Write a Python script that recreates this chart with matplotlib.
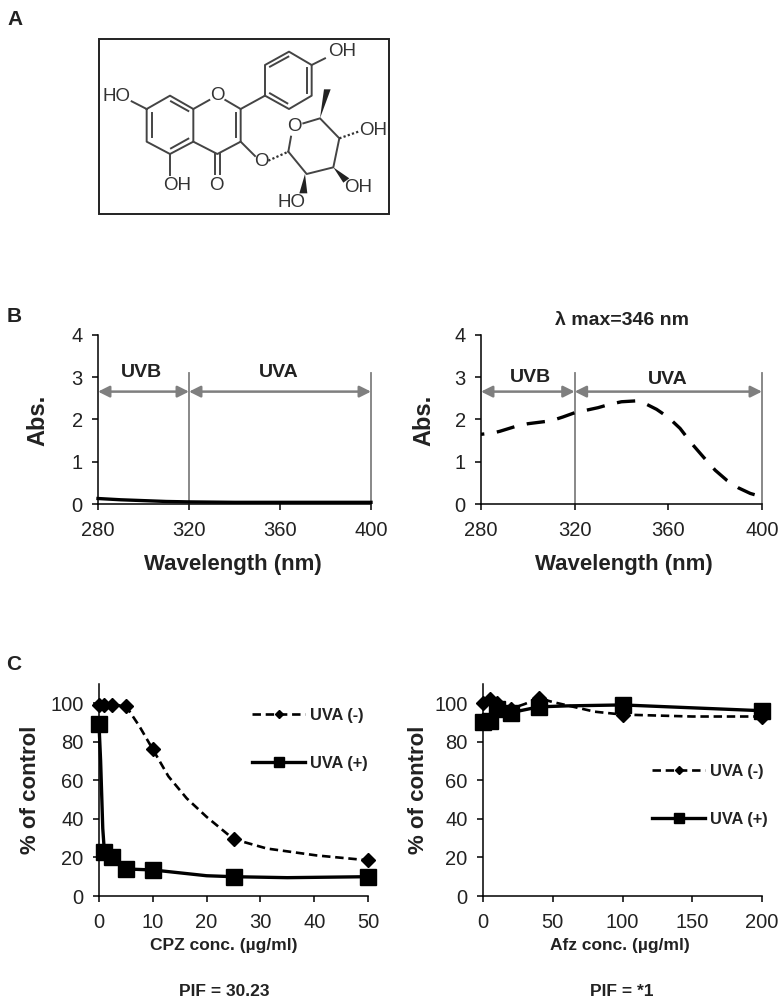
import matplotlib
matplotlib.use('Agg')
import matplotlib.pyplot as plt

plt.rcParams['font.family'] = ['Liberation Sans', 'DejaVu Sans']

W, H = 783, 1005

# spectra
wl_blank = [280, 290, 300, 310, 320, 340, 360, 380, 400]
abs_blank = [0.13, 0.10, 0.08, 0.06, 0.05, 0.04, 0.04, 0.04, 0.04]
wl_afz = [280, 285, 288, 295, 300, 310, 315, 320, 325, 330, 335, 340, 346, 350, 355, 360,
          365, 370, 375, 380, 385, 390, 395, 400]
abs_afz = [1.65, 1.68, 1.72, 1.84, 1.90, 1.97, 2.06, 2.16, 2.22, 2.28, 2.36, 2.42, 2.44, 2.38, 2.24, 2.05,
           1.79, 1.43, 1.11, 0.80, 0.56, 0.38, 0.25, 0.17]

# dose response markers
cpz_dose = [0, 1, 2.5, 5, 10, 25, 50]
cpz_minus = [99, 99, 99, 98.5, 76, 29.5, 18.5]
cpz_plus = [89, 23, 20, 14, 13.5, 10, 10]
afz_dose = [0, 5, 10, 20, 40, 100, 200]
afz_minus = [100, 102, 100, 97, 102.5, 94, 93]
afz_plus = [90, 90.5, 97, 95, 98, 99, 96]

# the lines between markers are smoothed, these are read along the line
cpz_minus_x = [0, 1, 2.5, 5, 7.5, 10, 12.9, 16.3, 20, 25, 31.2, 40.5, 50]
cpz_minus_y = [99, 99, 99, 98.5, 88, 76, 62, 50.6, 41, 29.5, 24.6, 21, 18.5]
cpz_plus_x = [0, 0.3, 0.7, 1, 2.5, 5, 10, 15, 20, 25, 35, 50]
cpz_plus_y = [89, 70, 35, 23, 20, 14, 13.5, 12, 10.5, 10, 9.5, 10]
afz_minus_x = [0, 5, 10, 20, 30, 40, 50, 65, 80, 100, 150, 200]
afz_minus_y = [100, 102, 100, 97, 99.5, 102.5, 100.5, 98, 95.5, 94, 93, 93]
afz_plus_x = [0, 5, 10, 20, 30, 40, 60, 100, 150, 200]
afz_plus_y = [90, 90.5, 97, 95, 96.5, 98, 98.5, 99, 97.5, 96]

# molecule bonds, in pixels of the drawing
bonds = [
    [(125, 214), (170, 237), (240, 197), (310, 237), (310, 335), (240, 372), (170, 335), (170, 237)],
    [(186, 250), (186, 322)], [(243, 214), (295, 243)], [(243, 355), (295, 326)],
    [(310, 237), (358, 210)], [(406, 210), (452, 237), (452, 335), (382, 372), (310, 335)],
    [(437, 250), (437, 322)], [(240, 372), (240, 435)],
    [(374, 372), (374, 432)], [(390, 372), (390, 432)],
    [(452, 237), (525, 197), (525, 105), (597, 65), (665, 105), (665, 197), (597, 237), (525, 197)],
    [(540, 190), (592, 220)], [(540, 110), (595, 80)], [(650, 115), (650, 190)],
    [(665, 105), (705, 85)], [(452, 335), (495, 378)],
    [(595, 365), (603, 320)], [(640, 280), (690, 265), (748, 325), (730, 412), (650, 432), (595, 365)],
]
dashed_bonds = [[(535, 392), (595, 365)], [(748, 325), (805, 305)]]
wedges = [[(690, 265), (702, 178), (722, 178)], [(730, 412), (760, 458), (778, 445)],
          [(645, 432), (628, 490), (652, 490)]]
atoms = [('HO', 80, 200), ('O', 382, 197), ('OH', 757, 65), ('O', 612, 290), ('O', 515, 395),
         ('OH', 848, 302), ('OH', 805, 472), ('HO', 605, 518), ('OH', 262, 465), ('O', 380, 465)]

fig = plt.figure(figsize=(W / 100, H / 100), dpi=100)


def px_axes(left, right, top, bottom):
    return fig.add_axes([left / W, 1 - bottom / H, (right - left) / W, (bottom - top) / H])


def style(ax):
    ax.spines['top'].set_visible(False)
    ax.spines['right'].set_visible(False)
    ax.spines['left'].set_linewidth(1.1)
    ax.spines['bottom'].set_linewidth(1.1)
    ax.tick_params(length=4, width=1.1, labelsize=14.5, labelcolor='#222222', pad=8)
    ax.tick_params(axis='y', pad=7)


def spectrum(ax):
    style(ax)
    ax.set_xlim(280, 400)
    ax.set_ylim(0, 4)
    ax.set_xticks([280, 320, 360, 400])
    ax.set_yticks([0, 1, 2, 3, 4])
    ax.plot([320, 320], [0, 3.1], color='#7f7f7f', lw=1.3, clip_on=False)
    ax.plot([400, 400], [0, 3.1], color='#7f7f7f', lw=1.3, clip_on=False)
    for a, b in [(280, 320), (320, 400)]:
        ax.annotate('', xy=(a, 2.66), xytext=(b, 2.66),
                    arrowprops=dict(arrowstyle='<|-|>', color='#7f7f7f', lw=1.8,
                                    mutation_scale=17, shrinkA=0, shrinkB=0))


def dose(ax, xmax, xticks, xm, ym, xp, yp, dx, dy, px, py, legend_pos):
    style(ax)
    ax.set_xlim(0, xmax)
    ax.set_ylim(0, 110)
    ax.set_xticks(xticks)
    ax.set_yticks([0, 20, 40, 60, 80, 100])
    ax.plot(xm, ym, color='black', lw=1.9, dashes=(3.2, 1.8), clip_on=False)
    ax.plot(xp, yp, color='black', lw=2.4, clip_on=False)
    ax.plot(dx, dy, ls='none', marker='D', ms=7.5, color='black', clip_on=False)
    ax.plot(dx, py, ls='none', marker='s', ms=12, color='black', clip_on=False)
    h1, = ax.plot([], [], color='black', lw=1.9, dashes=(3.2, 1.8), marker='D', ms=4.5, label='UVA (-)')
    h2, = ax.plot([], [], color='black', lw=2.4, marker='s', ms=7, label='UVA (+)')
    leg = ax.legend(handles=[h1, h2], loc='upper left', frameon=False,
                    bbox_to_anchor=(legend_pos[0] / W, 1 - legend_pos[1] / H),
                    bbox_transform=fig.transFigure, borderpad=0, borderaxespad=0,
                    handlelength=3.25, handletextpad=0.3, labelspacing=2.0,
                    prop={'weight': 'bold', 'size': 11.8})
    for t in leg.get_texts():
        t.set_color('#222222')


ax_b1 = px_axes(98, 371, 335, 504)
spectrum(ax_b1)
ax_b1.plot(wl_blank, abs_blank, color='black', lw=2.4, clip_on=False)

ax_b2 = px_axes(481, 762, 335, 504)
spectrum(ax_b2)
ax_b2.plot(wl_afz, abs_afz, color='black', lw=2.4, ls=(4.5, (5.5, 3.8)), clip_on=True)

ax_c1 = px_axes(99, 368, 683.7, 896)
dose(ax_c1, 50, [0, 10, 20, 30, 40, 50], cpz_minus_x, cpz_minus_y, cpz_plus_x, cpz_plus_y,
     cpz_dose, cpz_minus, cpz_dose, cpz_plus, (252, 708))
ax_c2 = px_axes(483, 762, 683.7, 896)
dose(ax_c2, 200, [0, 50, 100, 150, 200], afz_minus_x, afz_minus_y, afz_plus_x, afz_plus_y,
     afz_dose, afz_minus, afz_dose, afz_plus, (652, 764))

# page level texts and the molecule, pixel coordinates
page = fig.add_axes([0, 0, 1, 1], zorder=5)
page.set_xlim(0, W)
page.set_ylim(H, 0)
page.axis('off')
page.patch.set_alpha(0)


def label(x, y, s, size=16, rotation=0):
    page.text(x, y, s, fontsize=size, fontweight='bold', color='#222222', rotation=rotation,
              ha='center', va='center')


label(15, 19, 'A', 15)
label(14, 316, 'B', 15)
label(14, 664, 'C', 15)
label(141, 372, 'UVB', 14)
label(279, 372, 'UVA', 14)
label(530, 377, 'UVB', 14)
label(668, 379, 'UVA', 14)
label(622, 320, 'λ max=346 nm', 14)
label(233, 564, 'Wavelength (nm)')
label(624, 564, 'Wavelength (nm)')
label(38, 420, 'Abs.', 17, rotation=90)
label(424, 420, 'Abs.', 17, rotation=90)
label(31, 790, '% of control', rotation=90)
label(419, 790, '% of control', rotation=90)
label(224, 945, 'CPZ conc. (µg/ml)', 12.5)
label(620, 945, 'Afz conc. (µg/ml)', 12.5)
label(224, 991, 'PIF = 30.23', 12.5)
label(622, 991, 'PIF = *1', 12.5)


def mol(p):
    return 90 + p[0] / 3, 30 + p[1] / 3


page.add_patch(plt.Rectangle((99.3, 39), 289.7, 175, fill=False, ec='#222222', lw=1.4))
for bond in bonds:
    page.plot(*zip(*map(mol, bond)), color='#444444', lw=1.4)
for bond in dashed_bonds:
    page.plot(*zip(*map(mol, bond)), color='#333333', lw=1.6, dashes=(1, 1))
for w in wedges:
    page.fill(*zip(*map(mol, w)), color='#222222', lw=0)
for s, x, y in atoms:
    px, py = mol((x, y))
    page.text(px, py, s, fontsize=13.5, color='#333333', ha='center', va='center')

fig.savefig('out.png', dpi=100)
